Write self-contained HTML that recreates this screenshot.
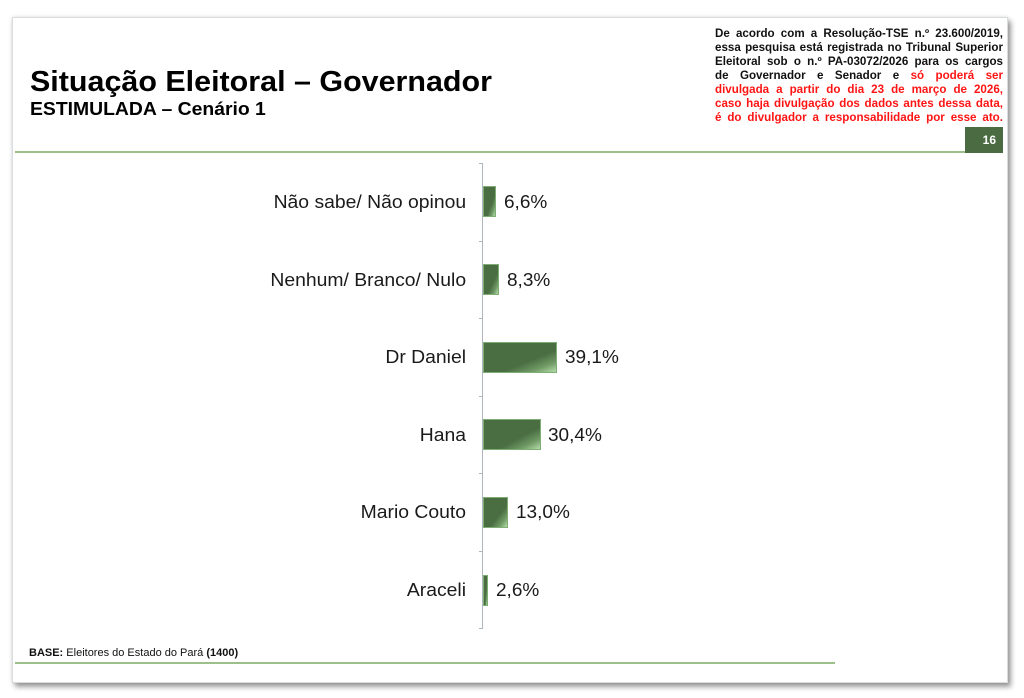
<!DOCTYPE html>
<html>
<head>
<meta charset="utf-8">
<style>
  html,body{margin:0;padding:0;background:#fff;}
  body{width:1024px;height:698px;position:relative;overflow:hidden;font-family:"Liberation Sans",Arial,sans-serif;}
  .slide{position:absolute;left:12px;top:17px;width:994px;height:664px;background:#fff;border:1px solid #d8dcdc;
    box-shadow:0 0 4px rgba(0,0,0,0.12),3px 4px 5px rgba(0,0,0,0.38);}
  .abs{position:absolute;white-space:nowrap;}
  .title{left:30px;top:67.5px;font-size:29px;line-height:29px;font-weight:bold;color:#000;transform:scaleX(1.05);transform-origin:left center;}
  .sub{left:30px;top:100px;font-size:18px;line-height:18px;font-weight:bold;color:#000;transform:scaleX(1.075);transform-origin:left center;}
  .disc{position:absolute;left:715px;top:26.5px;width:288px;font-size:11.6px;line-height:14.1px;font-weight:bold;color:#111;}
  .disc div{text-align:justify;text-align-last:justify;white-space:nowrap;height:14.1px;}
  .red{color:#ff1414;}
  .pg{position:absolute;left:965px;top:127px;width:38px;height:26px;background:#4b6c42;color:#fff;font-weight:bold;font-size:12px;line-height:26px;text-align:right;box-sizing:border-box;padding-right:7px;}
  .hline{position:absolute;left:15px;top:151px;width:950px;height:2px;background:#9dc08b;}
  .fline{position:absolute;left:15px;top:662px;width:820px;height:2px;background:#9dc08b;}
  .axis{position:absolute;left:482px;top:163px;width:1px;height:466px;background:#aeb6bd;}
  .tick{position:absolute;left:479px;width:3px;height:1px;background:#aeb6bd;}
  .cat{position:absolute;right:558px;font-size:18px;line-height:18px;color:#1a1a1a;text-align:right;white-space:nowrap;transform:scaleX(1.075);transform-origin:right center;}
  .val{position:absolute;font-size:18px;line-height:18px;color:#1a1a1a;white-space:nowrap;transform:scaleX(1.055);transform-origin:left center;}
  .bar{position:absolute;left:483px;height:31px;box-sizing:border-box;border:1px solid #7fae74;
    background:linear-gradient(to bottom right,#4a6d42 0%,#4a6d42 62%,#6f9a65 82%,#b4dcaa 100%);}
  .base{left:29px;top:647.7px;font-size:11px;line-height:11px;color:#111;}
</style>
</head>
<body>
<div class="slide"></div>

<div class="abs title">Situação Eleitoral – Governador</div>
<div class="abs sub">ESTIMULADA – Cenário 1</div>

<div class="disc">
  <div>De acordo com a Resolução-TSE n.º 23.600/2019,</div>
  <div>essa pesquisa está registrada no Tribunal Superior</div>
  <div>Eleitoral sob o n.º PA-03072/2026 para os cargos</div>
  <div>de Governador e Senador e <span class="red">só poderá ser</span></div>
  <div class="red">divulgada a partir do dia 23 de março de 2026,</div>
  <div class="red">caso haja divulgação dos dados antes dessa data,</div>
  <div class="red">é do divulgador a responsabilidade por esse ato.</div>
</div>

<div class="pg">16</div>
<div class="hline"></div>

<div class="axis"></div>
<div class="tick" style="top:163px"></div>
<div class="tick" style="top:241px"></div>
<div class="tick" style="top:318px"></div>
<div class="tick" style="top:396px"></div>
<div class="tick" style="top:473px"></div>
<div class="tick" style="top:551px"></div>
<div class="tick" style="top:628px"></div>

<div class="cat" style="top:193.3px">Não sabe/ Não opinou</div>
<div class="bar" style="top:186px;width:12.5px"></div>
<div class="val" style="top:193.3px;left:503.5px">6,6%</div>

<div class="cat" style="top:270.8px">Nenhum/ Branco/ Nulo</div>
<div class="bar" style="top:264px;width:15.7px"></div>
<div class="val" style="top:270.8px;left:507px">8,3%</div>

<div class="cat" style="top:348.3px">Dr Daniel</div>
<div class="bar" style="top:341.5px;width:74px"></div>
<div class="val" style="top:348.3px;left:565px">39,1%</div>

<div class="cat" style="top:425.8px">Hana</div>
<div class="bar" style="top:419px;width:57.5px"></div>
<div class="val" style="top:425.8px;left:548px">30,4%</div>

<div class="cat" style="top:503.3px">Mario Couto</div>
<div class="bar" style="top:496.5px;width:24.6px"></div>
<div class="val" style="top:503.3px;left:515.5px">13,0%</div>

<div class="cat" style="top:581.3px">Araceli</div>
<div class="bar" style="top:574.5px;width:4.9px"></div>
<div class="val" style="top:581.3px;left:495.5px">2,6%</div>

<div class="abs base"><b>BASE:</b> Eleitores do Estado do Pará <b>(1400)</b></div>
<div class="fline"></div>
</body>
</html>
